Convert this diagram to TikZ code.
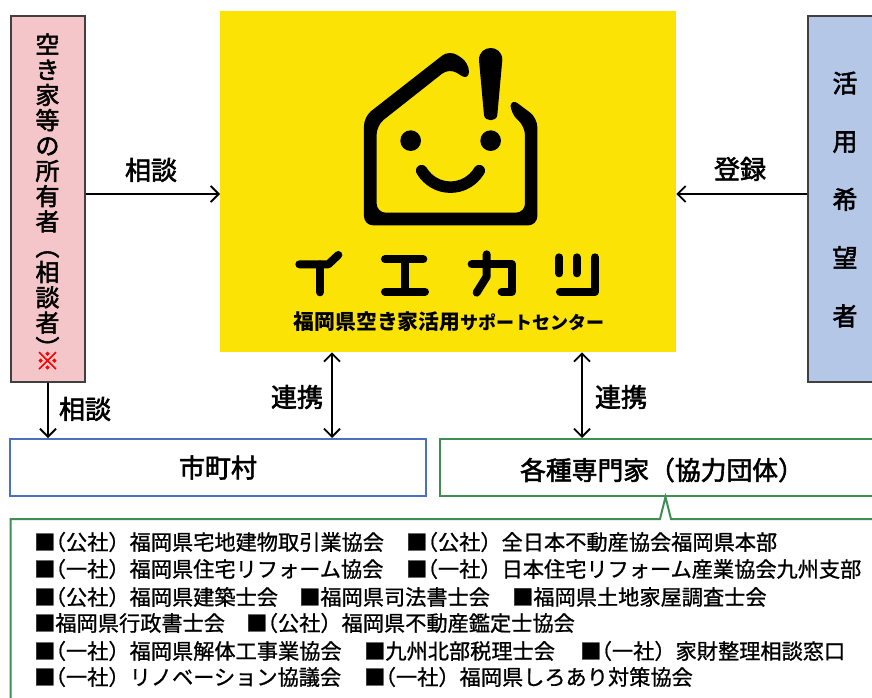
\documentclass[tikz,border=0pt]{standalone}
\usepackage{fontspec}
\setmainfont{Noto Sans CJK JP}
\newfontfamily\medfont[FakeBold=2.2]{Noto Sans CJK JP}
\newfontfamily\listfont[FakeBold=0.9]{Noto Sans CJK JP}
\usetikzlibrary{arrows.meta}
\definecolor{logoyellow}{HTML}{FBE306}
\definecolor{pinkfill}{HTML}{F4C6C9}
\definecolor{bluefill}{HTML}{B4C7E7}
\definecolor{boxblue}{HTML}{4A70BE}
\definecolor{boxgreen}{HTML}{3F8F55}
\definecolor{edgegrey}{HTML}{404040}
\newcommand{\sz}[2]{\fontsize{#1}{#2}\selectfont}
\newcommand{\op}{\hspace{-.5em}（}
\tikzset{
  x=1pt,y=-1pt,
  sidebox/.style={draw=edgegrey,line width=2pt,inner sep=0pt,anchor=north west,align=center},
  widebox/.style={line width=2pt,fill=white,inner sep=0pt,anchor=north west,minimum height=57pt,font=\medfont\sz{26}{30}},
  lbl/.style={inner sep=0pt,font=\medfont\sz{26}{30}},
  item/.style={inner sep=0pt,anchor=west,font=\listfont\sz{21.2}{25}},
  conn/.style={line width=1.8pt,black},
  one/.style={conn,-{Straight Barb[length=8pt,width=16pt,line width=1.8pt]}},
  two/.style={conn,{Straight Barb[length=8pt,width=16pt,line width=1.8pt]}-{Straight Barb[length=8pt,width=16pt,line width=1.8pt]}},
  kana/.style={line width=8pt,line cap=round,line join=round}
}
\begin{document}
\begin{tikzpicture}
\path[use as bounding box,clip] (0,0) rectangle (872,698);
\fill[white] (0,0) rectangle (872,698);
% main boxes
\node[sidebox,fill=pinkfill,minimum width=74pt,minimum height=365pt] (owner) at (9.5,15.5) {};
\node[sidebox,fill=bluefill,minimum width=80pt,minimum height=365pt] (user) at (807,15.5) {};
\node[fill=logoyellow,inner sep=0pt,anchor=north west,minimum width=456pt,minimum height=341pt] (logo) at (220,11) {};
\node[widebox,draw=boxblue,minimum width=416pt] (city) at (9,438) {市町村};
\node[widebox,draw=boxgreen,minimum width=450pt] (expert) at (439,438) {};
\node[lbl,font=\medfont\sz{25.8}{30}] (experttext) at (662,470) {各種専門家（協力団体）};
% side texts
\node[lbl,align=center,font=\medfont\sz{24}{25.3}] (ownertext) at (47.5,201.5) {空\\き\\家\\等\\の\\所\\有\\者\\︵\\相\\談\\者\\︶\\[-12.6pt]\textcolor{red}{※}};
\node[lbl,align=center,font=\medfont\sz{25}{58.2}] (usertext) at (845,199.5) {活\\用\\希\\望\\者};
% connectors
\draw[one] ([yshift=5pt]owner.east) -- ([yshift=5pt]owner.east -| logo.west);
\draw[one] ([yshift=5pt]user.west) -- ([yshift=5pt]user.west -| logo.east);
\draw[one] (owner.south -| 48,0) -- (city.north -| 48,0);
\draw[two] (logo.south -| 332,0) -- (city.north -| 332,0);
\draw[two] (logo.south -| 582,0) -- (expert.north -| 582,0);
\node[lbl] (l1) at (151,170) {相談};
\node[lbl] (l2) at (740,169) {登録};
\node[lbl] (l3) at (85,409) {相談};
\node[lbl] (l4) at (297,397) {連携};
\node[lbl] (l5) at (621,397) {連携};
% callout
\draw[boxgreen,line width=2pt] (10.5,705) -- (10.5,519) -- (660,519) -- (665.5,497) -- (671,519) -- (880,519);
% list
\node[item] (a1) at (34,542) {■\op 公社）福岡県宅地建物取引業協会};
\node[item] (a2) at (406,542) {■\op 公社）全日本不動産協会福岡県本部};
\node[item] (b1) at (34,569) {■\op 一社）福岡県住宅リフォーム協会};
\node[item] (b2) at (406,569) {■\op 一社）日本住宅リフォーム産業協会九州支部};
\node[item] (c1) at (34,597) {■\op 公社）福岡県建築士会};
\node[item] (c2) at (299,597) {■福岡県司法書士会};
\node[item] (c3) at (512,597) {■福岡県土地家屋調査士会};
\node[item] (d1) at (34,623) {■福岡県行政書士会};
\node[item] (d2) at (246,623) {■\op 公社）福岡県不動産鑑定士協会};
\node[item] (e1) at (34,651) {■\op 一社）福岡県解体工事業協会};
\node[item] (e2) at (364,651) {■九州北部税理士会};
\node[item] (e3) at (580,651) {■\op 一社）家財整理相談窓口};
\node[item] (f1) at (34,677) {■\op 一社）リノベーション協議会};
\node[item] (f2) at (364,677) {■\op 一社）福岡県しろあり対策協会};
% logo art
\begin{scope}[shift={(280,20)},x=0.3333pt,y=-0.3333pt]
\fill[black,even odd rule,rounded corners=9pt]
  (567,128) -- (508,90) -- (252,290) -- (252,616) -- (772,616) -- (772,294) -- (692,234) -- (692,282) -- (735,318) -- (735,578) -- (290,578) -- (290,316) -- (508,144) -- (567,182) -- cycle;
\fill[black] (597,120) .. controls (597,72) and (667,72) .. (667,120) -- (652,285) .. controls (650,306) and (614,306) .. (612,285) -- cycle;
\fill[black] (392,362) circle[radius=31];
\fill[black] (632,362) circle[radius=31];
\draw[black,line width=11.5pt,line cap=round] (425,452) .. controls (465,518) and (558,518) .. (598,452);
% katakana
\draw[kana] (58,733) -- (145,733) -- (175,705);
\draw[kana] (120,733) -- (120,817);
\draw[kana] (315,718) -- (430,718);
\draw[kana] (375,718) -- (375,815);
\draw[kana] (315,815) -- (435,815);
\draw[kana] (575,733) -- (695,733) -- (695,815) -- (665,815);
\draw[kana] (620,703) -- (620,770) -- (590,818);
\draw[kana] (838,712) -- (838,760);
\draw[kana] (890,712) -- (890,760);
\draw[kana] (945,712) -- (945,815) -- (840,815);
\end{scope}
\node[inner sep=0pt,font=\bfseries] (logotitle) at (449,321.5) {\sz{20.8}{24}福岡県空き家活用\sz{18}{24}サポートセンター};
\end{tikzpicture}
\end{document}
